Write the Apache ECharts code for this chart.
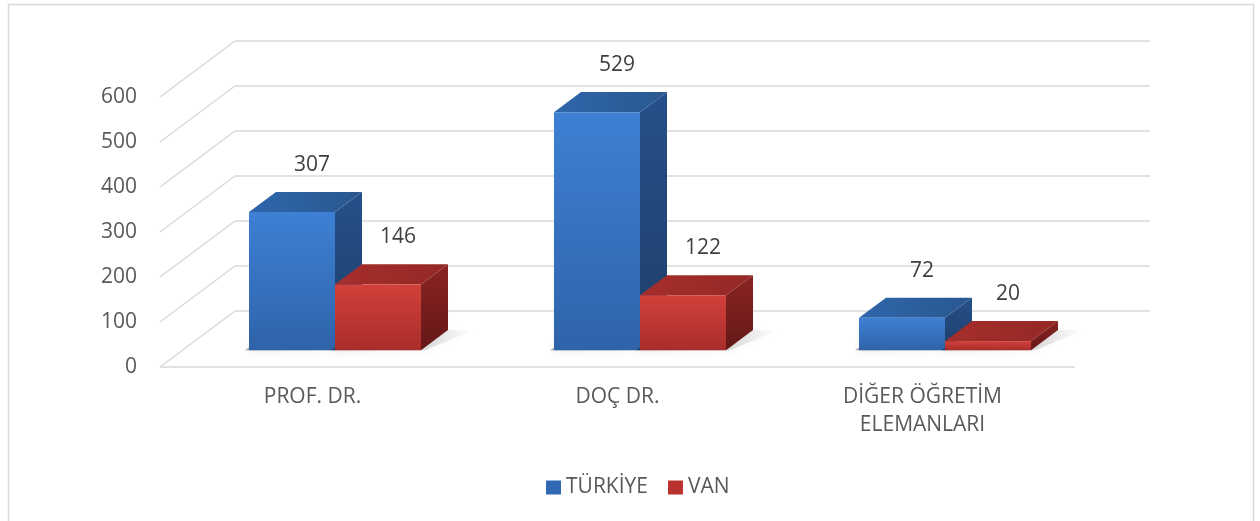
<!DOCTYPE html>
<html>
<head>
<meta charset="utf-8">
<script src="https://cdn.jsdelivr.net/npm/echarts@6/dist/echarts.min.js"></script>
<style>
  html, body { margin: 0; padding: 0; background: #fff; }
  #chart { width: 1260px; height: 521px; }
</style>
</head>
<body>
<div id="chart"></div>
<script>
// ---- data ----
const categories = ['PROF. DR.', 'DOÇ DR.', 'DİĞER ÖĞRETİM\nELEMANLARI'];
const seriesNames = ['TÜRKİYE', 'VAN'];
const turkiye = [307, 529, 72];
const van = [146, 122, 20];
const yTicks = [0, 100, 200, 300, 400, 500, 600];

// ---- 3D look (oblique projection) ----
const DX = 75, DY = -56;      // full depth vector of the floor/side wall
const F0 = 0.30, F1 = 0.66;   // depth range of bars
const BAR_FRAC = 0.282;       // width of one bar relative to category band
const FS = 21;

const palettes = [
  { front: ['#3d80d4', '#2f63a9'], side: ['#26508a', '#1e3e69'], top: ['#2f66ab', '#2a5890'], label: '#3068b4' },
  { front: ['#d2403b', '#a82d2a'], side: ['#8a2422', '#641817'], top: ['#a52e2b', '#952826'], label: '#b8332f' }
];

const chart = echarts.init(document.getElementById('chart'));

function gridRender(params, api) {
  const cs = params.coordSys;
  const v = api.value(1);
  const y = api.coord([0, v])[1];
  const x0 = cs.x, w = cs.width;
  const ls = { stroke: '#d9d9d9', lineWidth: 1.5 };
  const children = [
    { type: 'line', shape: { x1: x0, y1: y, x2: x0 + DX, y2: y + DY }, style: ls },
    { type: 'line', shape: { x1: x0 + DX, y1: y + DY, x2: x0 + DX + w, y2: y + DY }, style: ls }
  ];
  if (v === 0) {
    children.push({ type: 'line', shape: { x1: x0, y1: y, x2: x0 + w, y2: y }, style: ls });
  }
  return { type: 'group', children: children };
}

function makeBarRender(si) {
  const pal = palettes[si];
  return function (params, api) {
    const ci = api.value(0), v = api.value(1);
    const base = api.coord([ci, 0]);
    const top = api.coord([ci, v]);
    const band = api.size([1, 0])[0];
    const bw = band * BAR_FRAC;
    const ox = DX * F0, oy = DY * F0;
    const x0 = base[0] - bw + si * bw + ox;
    const x1 = x0 + bw;
    const yb = base[1] + oy;
    const yt = top[1] + oy;
    const dx = DX * (F1 - F0), dy = DY * (F1 - F0);
    const grad = (c) => ({ type: 'linear', x: 0, y: 0, x2: 0, y2: 1, colorStops: [{ offset: 0, color: c[0] }, { offset: 1, color: c[1] }] });
    const gradH = (c) => ({ type: 'linear', x: 0, y: 0, x2: 1, y2: 0, colorStops: [{ offset: 0, color: c[0] }, { offset: 1, color: c[1] }] });
    const shadowGrad = { type: 'linear', x: 0, y: 0, x2: 1, y2: 0, colorStops: [
      { offset: 0, color: 'rgba(0,0,0,0.35)' }, { offset: 1, color: 'rgba(0,0,0,0)' }] };
    return {
      type: 'group',
      children: [
        // soft floor shadow
        { type: 'polygon', shape: { points: [[x0 - 4, yb], [x1 + 4, yb], [x1 + dx + 26, yb + dy], [x0 + dx, yb + dy]] },
          style: { fill: shadowGrad, shadowBlur: 10, shadowColor: 'rgba(0,0,0,0.35)' } },
        { type: 'polygon', shape: { points: [[x1, yt], [x1 + dx, yt + dy], [x1 + dx, yb + dy], [x1, yb]] },
          style: { fill: grad(pal.side) } },
        { type: 'polygon', shape: { points: [[x0, yt], [x1, yt], [x1 + dx, yt + dy], [x0 + dx, yt + dy]] },
          style: { fill: gradH(pal.top) } },
        { type: 'rect', shape: { x: x0, y: yt, width: bw, height: yb - yt },
          style: { fill: grad(pal.front) } },
        { type: 'text', x: x0 + bw / 2 + 20, y: yt + dy - 27,
          style: { text: String(v), fill: '#404040', fontSize: FS, fontFamily: 'Open Sans', align: 'center', verticalAlign: 'middle' } }
      ]
    };
  };
}

const option = {
  backgroundColor: '#ffffff',
  animation: false,
  textStyle: { fontFamily: 'Open Sans' },
  graphic: [{
    type: 'rect', shape: { x: 8.5, y: 4.5, width: 1245, height: 530 },
    style: { fill: 'none', stroke: '#d9d9d9', lineWidth: 1.5 }, silent: true
  }],
  legend: {
    data: seriesNames,
    left: 546,
    top: 477,
    padding: 0,
    itemWidth: 15,
    itemHeight: 14,
    itemGap: 20,
    icon: 'rect',
    textStyle: { fontSize: FS, color: '#595959', fontFamily: 'Open Sans' }
  },
  grid: { left: 160, right: 185, top: 97, bottom: 154 },
  xAxis: {
    type: 'category',
    data: categories,
    axisLine: { show: false },
    axisTick: { show: false },
    splitLine: { show: false },
    axisLabel: { fontSize: FS, color: '#595959', margin: 16, lineHeight: 28, fontFamily: 'Open Sans', interval: 0 }
  },
  yAxis: {
    type: 'value',
    min: 0, max: 600, interval: 100,
    axisLine: { show: false },
    axisTick: { show: false },
    splitLine: { show: false },
    axisLabel: { fontSize: FS, color: '#595959', margin: 23, fontFamily: 'Open Sans' }
  },
  series: [
    { type: 'custom', name: '_grid', renderItem: gridRender, data: yTicks.map(v => [0, v]), silent: true, z: 1 },
    { type: 'custom', name: seriesNames[0], renderItem: makeBarRender(0), data: turkiye.map((v, i) => [i, v]),
      itemStyle: { color: palettes[0].label }, z: 2 },
    { type: 'custom', name: seriesNames[1], renderItem: makeBarRender(1), data: van.map((v, i) => [i, v]),
      itemStyle: { color: palettes[1].label }, z: 3 }
  ]
};
chart.setOption(option);
</script>
</body>
</html>
